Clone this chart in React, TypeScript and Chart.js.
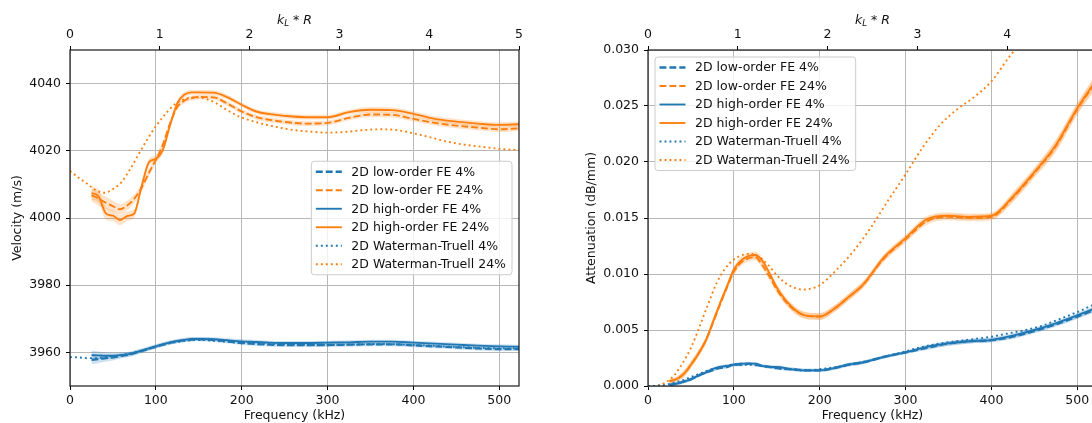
import React, { useEffect, useRef } from "react";
import { Chart, registerables } from "chart.js";

Chart.register(...registerables);

const BLUE = "#1f77b4";
const ORANGE = "#ff7f0e";
const BLUE_BAND = "rgba(31,119,180,0.22)";
const ORANGE_BAND = "rgba(255,127,14,0.22)";
const FONT = '"DejaVu Sans", sans-serif';
const TXT = "#111";
const GRID = "#b8b8b8";
const FS = 12.5;

// ---------- data ----------
const freqFE = [25, 33, 42, 50, 58, 67, 75, 83, 92, 100, 108, 117, 125, 133, 142, 150, 167, 183, 200, 217, 233, 250, 275, 300, 325, 350, 375, 400, 425, 450, 475, 500, 523];
const freqWT = [0, 10, 20, 30, 40, 50, 60, 70, 80, 90, 100, 110, 120, 130, 140, 150, 160, 170, 180, 190, 200, 220, 240, 260, 280, 300, 320, 340, 360, 380, 400, 420, 440, 460, 480, 500, 523];

const freqTicks = [0, 100, 200, 300, 400, 500];
const kTicks = [0, 1, 2, 3, 4, 5];
const velTicks = [3960, 3980, 4000, 4020, 4040];
const attTicks = [0, 0.005, 0.01, 0.015, 0.02, 0.025, 0.03];

const seriesLabels = [
  "2D low-order FE 4%",
  "2D low-order FE 24%",
  "2D high-order FE 4%",
  "2D high-order FE 24%",
  "2D Waterman-Truell 4%",
  "2D Waterman-Truell 24%",
];

// Velocity (m/s)
const velLow4 = [3957.8, 3958.0, 3958.3, 3958.5, 3958.9, 3959.3, 3959.8, 3960.4, 3961.1, 3961.7, 3962.3, 3962.9, 3963.3, 3963.6, 3963.8, 3963.9, 3963.7, 3963.3, 3962.8, 3962.5, 3962.3, 3962.2, 3962.2, 3962.2, 3962.3, 3962.4, 3962.4, 3962.1, 3961.8, 3961.5, 3961.2, 3961.0, 3961.0];
const velLow24 = [4006.8, 4005.8, 4004.5, 4003.5, 4002.6, 4003.8, 4005.8, 4008.8, 4013.5, 4017.3, 4021.7, 4028.5, 4033.0, 4034.9, 4035.7, 4036.0, 4035.9, 4034.1, 4031.7, 4030.0, 4029.2, 4028.6, 4028.1, 4028.3, 4029.8, 4030.8, 4030.7, 4029.5, 4028.3, 4027.5, 4026.9, 4026.4, 4026.7];
const velHigh4 = [3959.2, 3959.1, 3959.0, 3959.0, 3959.2, 3959.4, 3959.9, 3960.5, 3961.2, 3961.8, 3962.4, 3963.0, 3963.4, 3963.7, 3964.0, 3964.0, 3963.9, 3963.6, 3963.3, 3963.1, 3962.9, 3962.8, 3962.8, 3962.9, 3963.0, 3963.2, 3963.2, 3962.9, 3962.6, 3962.3, 3962.0, 3961.8, 3961.7];
const velHigh24 = [4007.4, 4006.5, 4001.3, 4000.7, 3999.4, 4000.6, 4001.4, 4009.0, 4016.6, 4017.6, 4020.2, 4028.0, 4034.2, 4036.7, 4037.4, 4037.4, 4037.3, 4036.0, 4033.7, 4031.7, 4030.9, 4030.4, 4030.0, 4030.0, 4031.5, 4032.2, 4032.1, 4031.0, 4029.5, 4028.7, 4028.1, 4027.7, 4027.9];
const velWT4 = [3958.6, 3958.5, 3958.3, 3958.3, 3958.5, 3958.8, 3959.2, 3959.7, 3960.3, 3961.0, 3961.7, 3962.4, 3962.9, 3963.3, 3963.6, 3963.7, 3963.6, 3963.4, 3963.2, 3963.0, 3962.8, 3962.6, 3962.4, 3962.3, 3962.2, 3962.2, 3962.3, 3962.4, 3962.5, 3962.4, 3962.2, 3962.0, 3961.7, 3961.5, 3961.3, 3961.2, 3961.1];
const velWT24 = [4014.0, 4012.0, 4010.2, 4008.3, 4007.5, 4008.6, 4010.7, 4014.5, 4019.0, 4023.4, 4027.3, 4030.6, 4033.4, 4035.0, 4035.8, 4035.9, 4035.3, 4034.2, 4032.6, 4031.1, 4029.9, 4028.3, 4027.1, 4026.2, 4025.7, 4025.4, 4025.6, 4026.1, 4026.4, 4026.2, 4025.2, 4024.0, 4022.7, 4021.8, 4021.2, 4020.6, 4020.2];
const velSpread4 = [1.3, 1.2, 1.0, 0.9, 0.8, 0.7, 0.7, 0.6, 0.6, 0.6, 0.6, 0.6, 0.6, 0.6, 0.6, 0.6, 0.6, 0.6, 0.6, 0.6, 0.6, 0.6, 0.6, 0.6, 0.6, 0.6, 0.6, 0.6, 0.6, 0.6, 0.6, 0.6, 0.6];
const velSpread24 = [2.0, 2.0, 1.8, 1.6, 1.5, 1.4, 1.3, 1.2, 1.1, 1.0, 1.0, 0.9, 0.8, 0.8, 0.7, 0.7, 0.7, 0.7, 0.7, 0.7, 0.7, 0.7, 0.7, 0.7, 0.7, 0.8, 0.8, 0.8, 0.8, 0.8, 0.8, 0.8, 0.8];

// Attenuation (dB/mm)
const attLow4 = [0.0001, 0.0002, 0.0004, 0.0006, 0.0009, 0.0012, 0.0014, 0.0016, 0.0017, 0.0019, 0.0019, 0.002, 0.0019, 0.0018, 0.0017, 0.0016, 0.0015, 0.0014, 0.0014, 0.0016, 0.0019, 0.0021, 0.0026, 0.003, 0.0034, 0.0038, 0.004, 0.0041, 0.0044, 0.0049, 0.0055, 0.0062, 0.0069];
const attLow24 = [0.0004, 0.0006, 0.0011, 0.0019, 0.0028, 0.004, 0.0055, 0.0071, 0.0088, 0.0102, 0.011, 0.0114, 0.0115, 0.0108, 0.0097, 0.0086, 0.007, 0.0063, 0.0062, 0.0069, 0.0079, 0.009, 0.0114, 0.0131, 0.0147, 0.0151, 0.015, 0.0151, 0.0168, 0.019, 0.0214, 0.0247, 0.0273];
const attHigh4 = [0.00012, 0.0002, 0.0004, 0.0006, 0.0009, 0.0012, 0.0015, 0.0017, 0.0018, 0.0019, 0.002, 0.002, 0.002, 0.0018, 0.0017, 0.0017, 0.0015, 0.0014, 0.0014, 0.0016, 0.0019, 0.0021, 0.0026, 0.003, 0.0035, 0.0038, 0.004, 0.0041, 0.0045, 0.005, 0.0056, 0.0063, 0.007];
const attHigh24 = [0.00045, 0.0006, 0.0011, 0.0019, 0.0028, 0.004, 0.0056, 0.0072, 0.0089, 0.0104, 0.0112, 0.0116, 0.0117, 0.0112, 0.01, 0.0088, 0.0071, 0.0063, 0.0062, 0.0069, 0.0079, 0.009, 0.0115, 0.0132, 0.0149, 0.0152, 0.0151, 0.0152, 0.0169, 0.0191, 0.0215, 0.0248, 0.0274];
const attWT4 = [0, 0.00002, 0.0001, 0.0003, 0.0005, 0.0008, 0.0011, 0.0014, 0.0016, 0.0018, 0.0019, 0.0019, 0.0019, 0.0018, 0.0017, 0.0016, 0.0015, 0.0015, 0.0014, 0.0014, 0.0015, 0.0017, 0.002, 0.0023, 0.0027, 0.0031, 0.0035, 0.0038, 0.004, 0.0042, 0.0044, 0.0047, 0.005, 0.0054, 0.006, 0.0066, 0.0074];
const attWT24 = [0, 0.00003, 0.0003, 0.0009, 0.002, 0.0034, 0.0053, 0.0073, 0.0092, 0.0105, 0.0113, 0.0117, 0.0118, 0.0115, 0.0108, 0.0099, 0.0092, 0.0088, 0.0086, 0.0087, 0.009, 0.0104, 0.0121, 0.0142, 0.0166, 0.0189, 0.0213, 0.0233, 0.0247, 0.0258, 0.0272, 0.0293, 0.0312, null, null, null, null];
const attSpread4 = [0.00015, 0.00015, 0.00015, 0.00015, 0.00015, 0.00015, 0.00015, 0.00015, 0.00015, 0.00015, 0.00015, 0.00015, 0.00015, 0.00015, 0.00015, 0.00015, 0.00015, 0.00015, 0.00015, 0.00015, 0.00015, 0.00015, 0.00015, 0.00015, 0.00018, 0.0002, 0.0002, 0.0002, 0.0002, 0.0002, 0.0002, 0.00022, 0.00025];
const attSpread24 = [0.0002, 0.0002, 0.0003, 0.0003, 0.0003, 0.0003, 0.0003, 0.0003, 0.0003, 0.0003, 0.0003, 0.0003, 0.0003, 0.0003, 0.0003, 0.0003, 0.0003, 0.0003, 0.0003, 0.0003, 0.0003, 0.0003, 0.0003, 0.0003, 0.0003, 0.0003, 0.0003, 0.0003, 0.0004, 0.0004, 0.0005, 0.0005, 0.0006];

const X_MAX = 523;
const K_MAX = 5;

// ---------- styles ----------
const LW = 1.875;
const DASH = [6.9, 3.0];
const DOT = [1.9, 3.1];
const styles = [
  { color: BLUE, dash: DASH, width: 2.3 },
  { color: ORANGE, dash: DASH, width: LW },
  { color: BLUE, dash: [] as number[], width: LW },
  { color: ORANGE, dash: [] as number[], width: LW },
  { color: BLUE, dash: DOT, width: LW },
  { color: ORANGE, dash: DOT, width: LW },
];

function pts(xs: number[], ys: (number | null)[]) {
  return xs.map((x, i) => ({ x, y: ys[i] }));
}

function lineDs(i: number, xs: number[], ys: (number | null)[]) {
  const s = styles[i];
  return {
    label: seriesLabels[i],
    data: pts(xs, ys),
    xAxisID: "x",
    yAxisID: "y",
    borderColor: s.color,
    borderWidth: s.width,
    borderDash: s.dash,
    borderCapStyle: "butt",
    borderJoinStyle: "round",
    pointRadius: 0,
    fill: false,
    cubicInterpolationMode: "monotone",
    spanGaps: false,
    order: 0,
  };
}

function bandDs(xs: number[], ys: number[], spread: number[], color: string) {
  const common = {
    xAxisID: "x",
    yAxisID: "y",
    borderWidth: 0,
    borderColor: "transparent",
    backgroundColor: color,
    pointRadius: 0,
    cubicInterpolationMode: "monotone",
    order: 10,
  };
  return [
    { ...common, data: xs.map((x, i) => ({ x, y: ys[i] + spread[i] })), fill: false },
    { ...common, data: xs.map((x, i) => ({ x, y: ys[i] - spread[i] })), fill: "-1" },
  ];
}

// ---------- plugins ----------
const framePlugin = {
  id: "frame",
  afterDatasetsDraw(chart: any) {
    const { ctx, chartArea: a } = chart;
    ctx.save();
    ctx.strokeStyle = "#1a1a1a";
    ctx.lineWidth = 1.2;
    ctx.strokeRect(a.left, a.top, a.right - a.left, a.bottom - a.top);
    ctx.restore();
  },
};

const topTitlePlugin = {
  id: "topTitle",
  afterDraw(chart: any) {
    const { ctx, chartArea: a } = chart;
    const parts = [
      { t: "k", f: `italic ${FS}px ${FONT}`, dy: 0 },
      { t: "L", f: `italic ${FS * 0.7}px ${FONT}`, dy: 2 },
      { t: " * ", f: `${FS}px ${FONT}`, dy: 0 },
      { t: "R", f: `italic ${FS}px ${FONT}`, dy: 0 },
    ];
    ctx.save();
    let total = 0;
    const widths = parts.map((p) => {
      ctx.font = p.f;
      const w = ctx.measureText(p.t).width;
      total += w;
      return w;
    });
    let x = (a.left + a.right) / 2 - total / 2;
    const base = 24;
    ctx.fillStyle = TXT;
    ctx.textBaseline = "alphabetic";
    ctx.textAlign = "left";
    parts.forEach((p, i) => {
      ctx.font = p.f;
      ctx.fillText(p.t, x, base + p.dy);
      x += widths[i];
    });
    ctx.restore();
  },
};

function makeLegendPlugin(pos: "centerRight" | "upperLeft") {
  return {
    id: "customLegend",
    afterDatasetsDraw(chart: any) {
      const { ctx, chartArea: a } = chart;
      ctx.save();
      ctx.font = `${FS}px ${FONT}`;
      const textW = Math.max(...seriesLabels.map((l) => ctx.measureText(l).width));
      const w = 40 + textW + 6;
      const rowH = 18.5;
      const h = 21 + rowH * 5;
      let bx: number, by: number;
      if (pos === "centerRight") {
        bx = a.right - 7 - w;
        by = (a.top + a.bottom) / 2 - h / 2;
      } else {
        bx = a.left + 7;
        by = a.top + 7;
      }
      ctx.beginPath();
      if (ctx.roundRect) ctx.roundRect(bx, by, w, h, 3);
      else ctx.rect(bx, by, w, h);
      ctx.fillStyle = "rgba(255,255,255,0.8)";
      ctx.fill();
      ctx.strokeStyle = "#cccccc";
      ctx.lineWidth = 1;
      ctx.stroke();
      seriesLabels.forEach((label, i) => {
        const s = styles[i];
        const y = by + 10.5 + i * rowH;
        ctx.beginPath();
        ctx.setLineDash(s.dash);
        ctx.lineCap = "butt";
        ctx.strokeStyle = s.color;
        ctx.lineWidth = s.width;
        ctx.moveTo(bx + 4.5, y);
        ctx.lineTo(bx + 30.5, y);
        ctx.stroke();
        ctx.setLineDash([]);
        ctx.fillStyle = TXT;
        ctx.textBaseline = "middle";
        ctx.textAlign = "left";
        ctx.fillText(label, bx + 40, y + 0.5);
      });
      ctx.restore();
    },
  };
}

// ---------- config ----------
function makeScales(yMin: number, yMax: number, yTicks: number[], yTitle: string, yFmt: (v: number) => string, yWidth: number) {
  const font = { family: FONT, size: FS };
  return {
    x: {
      type: "linear",
      position: "bottom",
      min: 0,
      max: X_MAX,
      afterBuildTicks: (s: any) => {
        s.ticks = freqTicks.map((v) => ({ value: v }));
      },
      afterFit: (s: any) => {
        s.height = 37;
      },
      grid: { color: GRID, lineWidth: 1, drawTicks: true, tickLength: 4, tickColor: "#000", tickWidth: 1 },
      border: { display: false },
      ticks: { color: TXT, font, padding: 3, maxRotation: 0, autoSkip: false, callback: (v: any) => String(v) },
      title: { display: true, text: "Frequency (kHz)", color: TXT, font, padding: { top: 0, bottom: 0 } },
    },
    x2: {
      type: "linear",
      position: "top",
      min: 0,
      max: K_MAX,
      afterBuildTicks: (s: any) => {
        s.ticks = kTicks.map((v) => ({ value: v }));
      },
      afterFit: (s: any) => {
        s.height = 50;
      },
      grid: { drawOnChartArea: false, drawTicks: true, tickLength: 4, tickColor: "#000", color: "#000", tickWidth: 1 },
      border: { display: false },
      ticks: { color: TXT, font, padding: 4, maxRotation: 0, autoSkip: false, callback: (v: any) => String(v) },
    },
    y: {
      type: "linear",
      position: "left",
      min: yMin,
      max: yMax,
      afterBuildTicks: (s: any) => {
        s.ticks = yTicks.map((v) => ({ value: v }));
      },
      afterFit: (s: any) => {
        s.width = yWidth;
      },
      grid: { color: GRID, lineWidth: 1, drawTicks: true, tickLength: 4, tickColor: "#000", tickWidth: 1 },
      border: { display: false },
      ticks: { color: TXT, font, padding: 5, autoSkip: false, callback: (v: any) => yFmt(Number(v)) },
      title: { display: true, text: yTitle, color: TXT, font, padding: { top: 10, bottom: 0 } },
    },
  };
}

function velocityConfig(): any {
  return {
    type: "line",
    data: {
      datasets: [
        lineDs(0, freqFE, velLow4),
        lineDs(1, freqFE, velLow24),
        lineDs(2, freqFE, velHigh4),
        lineDs(3, freqFE, velHigh24),
        lineDs(4, freqWT, velWT4),
        lineDs(5, freqWT, velWT24),
        ...bandDs(freqFE, velLow4, velSpread4, BLUE_BAND),
        ...bandDs(freqFE, velLow24, velSpread24, ORANGE_BAND),
        ...bandDs(freqFE, velHigh4, velSpread4, BLUE_BAND),
        ...bandDs(freqFE, velHigh24, velSpread24, ORANGE_BAND),
      ],
    },
    options: {
      animation: false,
      responsive: true,
      maintainAspectRatio: false,
      layout: { padding: { left: 0, right: 27, top: 0, bottom: 0 } },
      plugins: { legend: { display: false }, tooltip: { enabled: false } },
      events: [],
      scales: makeScales(3950, 4050, velTicks, "Velocity (m/s)", (v) => String(v), 70),
    },
    plugins: [framePlugin, topTitlePlugin, makeLegendPlugin("centerRight")],
  };
}

function attenuationConfig(): any {
  return {
    type: "line",
    data: {
      datasets: [
        lineDs(0, freqFE, attLow4),
        lineDs(1, freqFE, attLow24),
        lineDs(2, freqFE, attHigh4),
        lineDs(3, freqFE, attHigh24),
        lineDs(4, freqWT, attWT4),
        lineDs(5, freqWT, attWT24),
        ...bandDs(freqFE, attLow4, attSpread4, BLUE_BAND),
        ...bandDs(freqFE, attLow24, attSpread24, ORANGE_BAND),
        ...bandDs(freqFE, attHigh4, attSpread4, BLUE_BAND),
        ...bandDs(freqFE, attHigh24, attSpread24, ORANGE_BAND),
      ],
    },
    options: {
      animation: false,
      responsive: true,
      maintainAspectRatio: false,
      layout: { padding: { left: 0, right: 10, top: 0, bottom: 0 } },
      plugins: { legend: { display: false }, tooltip: { enabled: false } },
      events: [],
      scales: makeScales(0, 0.03, attTicks, "Attenuation (dB/mm)", (v) => v.toFixed(3), 74),
    },
    plugins: [framePlugin, topTitlePlugin, makeLegendPlugin("upperLeft")],
  };
}

function ChartBox({ left, width, build }: { left: number; width: number; build: () => any }) {
  const ref = useRef<HTMLCanvasElement | null>(null);
  useEffect(() => {
    if (!ref.current) return;
    const chart = new Chart(ref.current, build());
    return () => chart.destroy();
  }, [build]);
  return (
    <div style={{ position: "absolute", left, top: 0, width, height: 423 }}>
      <canvas ref={ref} />
    </div>
  );
}

export default function App() {
  return (
    <div
      style={{
        position: "fixed",
        left: 0,
        top: 0,
        width: 1092,
        height: 423,
        overflow: "hidden",
        background: "#fff",
      }}
    >
      <ChartBox left={0} width={546} build={velocityConfig} />
      <ChartBox left={574} width={533} build={attenuationConfig} />
    </div>
  );
}
